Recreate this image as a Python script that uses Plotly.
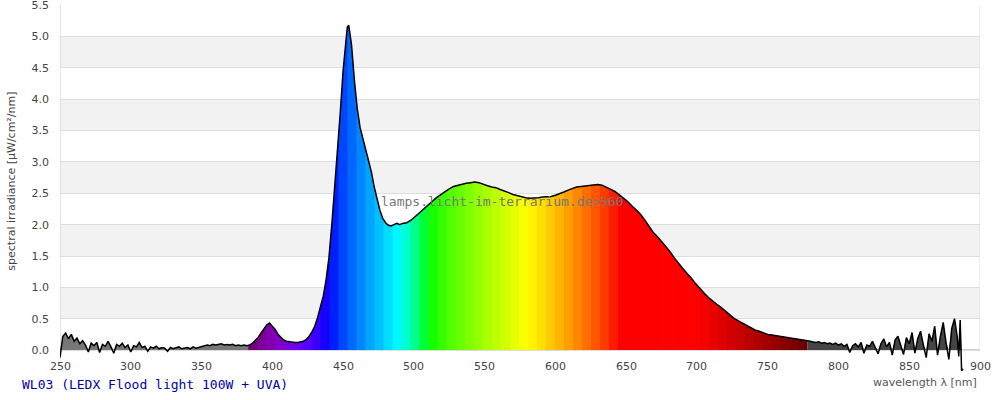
import numpy as np
import plotly.graph_objects as go

# ---------------- data ----------------
wavelength = [
    250, 252, 254, 256, 258, 260, 262, 264, 266, 268, 270, 272, 274, 276, 278, 280, 282, 284, 286, 288,
    290, 292, 294, 296, 298, 300, 302, 304, 306, 308, 310, 312, 314, 316, 318, 320, 322, 324, 326, 328,
    330, 332, 334, 336, 338, 340, 342, 344, 346, 348, 350, 352, 354, 356, 358, 360, 362, 364, 366, 368,
    370, 372, 374, 376, 378, 380, 382, 384, 386, 388, 390, 392, 394, 396, 398, 400, 402, 404, 406, 408,
    410, 412, 414, 416, 418, 420, 422, 424, 426, 428, 430, 432, 434, 436, 438, 440, 442, 444, 446, 448,
    450, 452, 453, 454, 455, 456, 458, 460, 462, 464, 466, 468, 470, 472, 474, 476, 478, 480, 482, 484,
    486, 488, 490, 492, 495, 498, 501, 504, 507, 510, 513, 516, 519, 522, 525, 528, 531, 534, 537, 540,
    543, 546, 549, 552, 555, 558, 561, 564, 567, 570, 573, 576, 579, 582, 585, 588, 591, 594, 597, 600,
    603, 606, 609, 612, 615, 618, 621, 624, 627, 630, 633, 636, 639, 642, 645, 648, 651, 654, 657, 660,
    663, 666, 669, 672, 675, 678, 681, 684, 687, 690, 693, 696, 699, 702, 705, 708, 711, 714, 717, 720,
    723, 726, 729, 732, 735, 738, 741, 744, 747, 750, 753, 756, 759, 762, 765, 768, 771, 774, 777, 780,
    782, 784, 786, 788, 790, 792, 794, 796, 798, 800, 802, 804, 806, 808, 810, 812, 814, 816, 818, 820,
    822, 824, 826, 828, 830, 832, 834, 836, 838, 840, 842, 844, 846, 848, 850, 852, 854, 856, 858, 860,
    862, 864, 866, 868, 870, 872, 874, 876, 878, 880, 882, 884, 885, 886, 887, 888,
]
irradiance = [
    -0.12, 0.22, 0.27, 0.18, 0.25, 0.14, 0.19, 0.10, 0.15, 0.08, -0.03, 0.11, 0.07, 0.12, -0.04, 0.09, 0.06, 0.14, 0.05, -0.05,
    0.09, 0.06, 0.11, 0.04, 0.08, -0.03, 0.07, 0.05, 0.12, 0.04, 0.06, -0.02, 0.05, 0.03, 0.06, 0.02, 0.04, 0.03, -0.02, 0.04,
    0.02, 0.03, 0.05, 0.02, 0.03, 0.04, 0.02, 0.05, 0.03, 0.04, 0.06, 0.07, 0.08, 0.07, 0.09, 0.08, 0.09, 0.10, 0.08, 0.09,
    0.08, 0.09, 0.07, 0.08, 0.07, 0.08, 0.07, 0.08, 0.11, 0.15, 0.20, 0.27, 0.34, 0.40, 0.43, 0.38, 0.33, 0.25, 0.20, 0.16,
    0.14, 0.13, 0.12, 0.12, 0.12, 0.13, 0.14, 0.17, 0.22, 0.29, 0.38, 0.52, 0.68, 0.86, 1.12, 1.47, 1.99, 2.55, 3.14, 3.78,
    4.45, 4.95, 5.15, 5.18, 5.05, 4.86, 4.30, 3.85, 3.55, 3.38, 3.22, 3.05, 2.84, 2.60, 2.40, 2.23, 2.10, 2.03, 1.99, 1.98,
    2.00, 2.02, 2.00, 2.02, 2.03, 2.07, 2.13, 2.19, 2.26, 2.32, 2.38, 2.43, 2.48, 2.53, 2.57, 2.61, 2.63, 2.65, 2.66, 2.67,
    2.68, 2.67, 2.64, 2.62, 2.60, 2.59, 2.56, 2.54, 2.51, 2.48, 2.46, 2.44, 2.43, 2.42, 2.42, 2.43, 2.44, 2.44, 2.45, 2.47,
    2.49, 2.52, 2.55, 2.58, 2.60, 2.61, 2.62, 2.63, 2.64, 2.64, 2.63, 2.60, 2.57, 2.53, 2.48, 2.43, 2.37, 2.30, 2.24, 2.17,
    2.08, 1.97, 1.88, 1.81, 1.73, 1.65, 1.57, 1.47, 1.38, 1.30, 1.22, 1.15, 1.06, 0.98, 0.91, 0.84, 0.78, 0.73, 0.68, 0.62,
    0.56, 0.51, 0.47, 0.43, 0.40, 0.36, 0.32, 0.30, 0.27, 0.25, 0.24, 0.23, 0.22, 0.21, 0.19, 0.19, 0.18, 0.17, 0.16, 0.14,
    0.13, 0.12, 0.13, 0.11, 0.12, 0.10, 0.11, 0.09, 0.11, 0.08, 0.10, 0.06, 0.09, -0.04, 0.07, 0.10, 0.05, 0.12, -0.05, 0.08,
    0.06, 0.14, 0.04, -0.06, 0.10, 0.18, 0.05, 0.12, -0.08, 0.16, 0.22, 0.06, -0.07, 0.20, 0.10, 0.28, -0.05, 0.18, 0.30, 0.08,
    -0.12, 0.26, 0.14, 0.38, -0.08, 0.22, 0.44, 0.12, -0.15, 0.34, 0.50, 0.20, -0.10, 0.48, -0.33, -0.30,
]
y_ticks = [0.0, 0.5, 1.0, 1.5, 2.0, 2.5, 3.0, 3.5, 4.0, 4.5, 5.0, 5.5]
x_ticks = [250, 300, 350, 400, 450, 500, 550, 600, 650, 700, 750, 800, 850, 900]

title_text = "WL03 (LEDX Flood light 100W + UVA)"
watermark = "lamps.licht-im-terrarium.de>560"
y_title = "spectral irradiance [µW/cm²/nm]"
x_title = "wavelength λ [nm]"

wl = np.array(wavelength, dtype=float)
ir = np.array(irradiance, dtype=float)
ir_pos = np.clip(ir, 0, None)


def wl_to_rgb(w):
    if w < 440:
        r, g, b = -(w - 440) / 60, 0.0, 1.0
    elif w < 490:
        r, g, b = 0.0, (w - 440) / 50, 1.0
    elif w < 510:
        r, g, b = 0.0, 1.0, -(w - 510) / 20
    elif w < 580:
        r, g, b = (w - 510) / 70, 1.0, 0.0
    elif w < 645:
        r, g, b = 1.0, -(w - 645) / 65, 0.0
    else:
        r, g, b = 1.0, 0.0, 0.0
    if w < 420:
        f = 0.3 + 0.7 * (w - 380) / 40
    elif w > 700:
        f = 0.3 + 0.7 * (780 - w) / 80
    else:
        f = 1.0
    def c(v):
        v = max(0.0, min(1.0, v * f))
        return int(round(255 * (v ** 0.8))) if v > 0 else 0
    return f"rgb({c(r)},{c(g)},{c(b)})"


def segment(b0, b1):
    inside = (wl > b0) & (wl < b1)
    xs = [b0] + list(wl[inside]) + [b1]
    ys = [np.interp(b0, wl, ir_pos)] + list(ir_pos[inside]) + [np.interp(b1, wl, ir_pos)]
    return xs + [b1, b0], ys + [0, 0]


fig = go.Figure()

vis_lo, vis_hi, n_stripes = 383.0, 778.0, 62
edges = np.linspace(vis_lo, vis_hi, n_stripes + 1)
overlap = 0.5

# grey outside the visible range
for (a, b, col) in [(wl[0], vis_lo + overlap, "#777777"), (vis_hi, wl[-1], "#444444")]:
    xs, ys = segment(a, b)
    fig.add_trace(go.Scatter(x=xs, y=ys, fill="toself", fillcolor=col, mode="none",
                             hoverinfo="skip", showlegend=False))

for i in range(n_stripes):
    b0, b1 = edges[i], edges[i + 1]
    xs, ys = segment(b0, min(b1 + overlap, vis_hi))
    col = wl_to_rgb((b0 + b1) / 2)
    fig.add_trace(go.Scatter(x=xs, y=ys, fill="toself", fillcolor=col, mode="none",
                             hoverinfo="skip", showlegend=False))

fig.add_trace(go.Scatter(x=wl, y=ir, mode="lines", line=dict(color="black", width=1.5),
                         showlegend=False, hoverinfo="skip"))

# alternating bands
shapes = []
for k in range(0, len(y_ticks) - 1):
    if k % 2 == 1:
        shapes.append(dict(type="rect", xref="x", yref="y", x0=x_ticks[0], x1=x_ticks[-1],
                           y0=y_ticks[k], y1=y_ticks[k + 1], fillcolor="#f2f2f2",
                           line=dict(width=0), layer="below"))
# axis frame
shapes.append(dict(type="line", xref="x", yref="y", x0=x_ticks[0], x1=x_ticks[0], y0=0, y1=y_ticks[-1],
                   line=dict(color="#cccccc", width=1), layer="below"))
shapes.append(dict(type="line", xref="x", yref="y", x0=x_ticks[-1], x1=x_ticks[-1], y0=0, y1=y_ticks[-1],
                   line=dict(color="#dddddd", width=1), layer="below"))
shapes.append(dict(type="line", xref="x", yref="y", x0=x_ticks[0], x1=x_ticks[-1], y0=0, y1=0,
                   line=dict(color="#d0d0d0", width=2), layer="below"))

annotations = []
for t in x_ticks:
    annotations.append(dict(x=t, y=0, xref="x", yref="y", text=str(t), showarrow=False,
                            yanchor="top", yshift=-8, font=dict(family="DejaVu Sans", size=11, color="#444")))
annotations.append(dict(x=(3 - 60) / 920, y=0.52, xref="paper", yref="paper", text=y_title, textangle=-90,
                        showarrow=False, xanchor="left",
                        font=dict(family="DejaVu Sans", size=11, color="#444")))
annotations.append(dict(x=1.0, y=0, xref="paper", yref="paper", text=x_title, showarrow=False,
                        xanchor="right", yanchor="top", yshift=-2, xshift=-1,
                        font=dict(family="DejaVu Sans", size=11, color="#555")))
annotations.append(dict(x=(20 - 60) / 920, y=(372 - 384) / 367, xref="paper", yref="paper",
                        text=title_text, showarrow=False, xanchor="left", yanchor="middle",
                        font=dict(family="DejaVu Sans Mono", size=13, color="#0000aa")))
annotations.append(dict(x=562.5, y=2.375, xref="x", yref="y", text=watermark, showarrow=False,
                        xanchor="center", yanchor="middle",
                        font=dict(family="DejaVu Sans Mono", size=13, color="#777777")))

fig.update_layout(
    width=1000, height=400,
    margin=dict(l=60, r=20, t=5, b=28, autoexpand=False),
    paper_bgcolor="white", plot_bgcolor="white",
    shapes=shapes, annotations=annotations,
    xaxis=dict(range=[x_ticks[0], x_ticks[-1]], showgrid=False, showline=False, zeroline=False,
               showticklabels=False, ticks="", fixedrange=True, automargin=False),
    yaxis=dict(range=[-0.35, y_ticks[-1] + 0.003], tickvals=y_ticks, ticktext=[f"{v:.1f}" for v in y_ticks],
               showgrid=True, gridcolor="#dddddd", gridwidth=1, zeroline=False, showline=False,
               ticks="", ticklabelstandoff=10, ticklabeloverflow="allow",
               tickfont=dict(family="DejaVu Sans", size=11, color="#444"),
               fixedrange=True, automargin=False),
)

fig.write_html("out.html", config={"displayModeBar": False},
               post_script="document.body.style.margin='0';document.body.style.overflow='hidden';")
